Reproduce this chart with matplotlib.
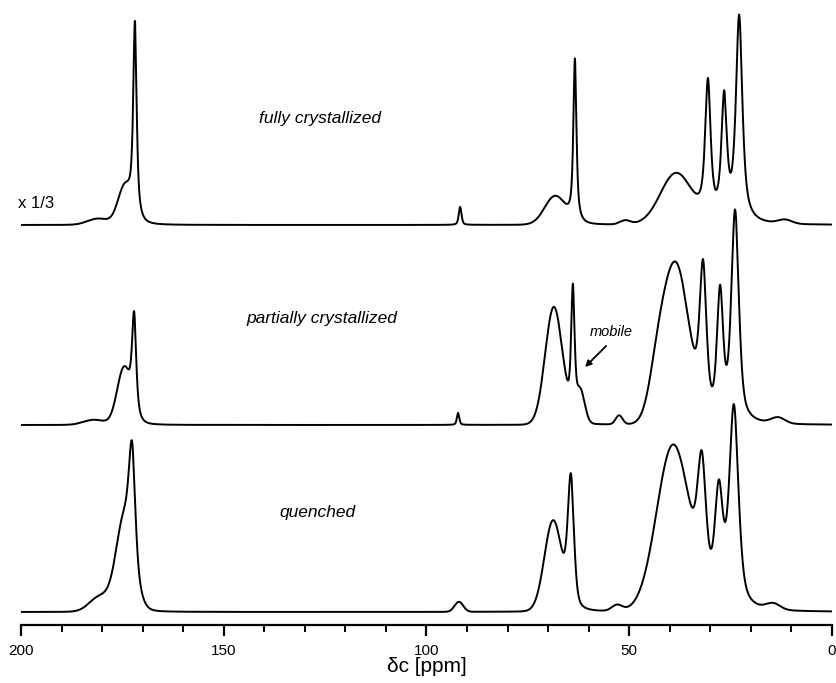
import numpy as np
import matplotlib
matplotlib.use('Agg')
import matplotlib.pyplot as plt

plt.rcParams['font.family'] = ['Liberation Sans', 'DejaVu Sans']

# Peak tables: position (ppm), height, FWHM (ppm), Lorentz fraction
# fully crystallized (drawn at 1/3 scale)
full_pos = [181.0, 174.4, 171.9, 91.7, 68.3, 63.4, 51.0, 38.5, 30.6, 26.6, 22.9, 11.6]
full_hgt = [6, 36, 192, 18, 28, 162, 4, 50, 135, 120, 205, 4]
full_wid = [6.0, 4.0, 1.0, 0.8, 6.0, 0.9, 3.0, 9.0, 1.6, 1.6, 1.9, 4.0]
full_eta = [0.0, 0.0, 0.8, 0.5, 0.0, 0.8, 0.0, 0.0, 0.8, 0.8, 0.8, 0.0]

# partially crystallized
part_pos = [182.0, 174.6, 172.1, 92.2, 68.6, 63.9, 62.0, 52.5, 43.0, 38.5, 31.8, 27.6, 23.9, 13.3]
part_hgt = [5, 55, 95, 12, 117, 125, 30, 9, 38, 156, 143, 125, 210, 6]
part_wid = [6.0, 4.0, 1.2, 0.7, 5.0, 1.0, 2.5, 2.0, 5.0, 7.5, 2.0, 1.8, 2.2, 4.0]
part_eta = [0.0, 0.0, 0.7, 0.5, 0.0, 0.7, 0.0, 0.0, 0.0, 0.0, 0.6, 0.6, 0.6, 0.0]

# quenched
quen_pos = [180.5, 174.4, 172.6, 92.0, 68.8, 64.4, 53.0, 39.2, 32.1, 27.9, 24.2, 14.5]
quen_hgt = [15, 92, 106, 10, 89, 128, 6, 164, 118, 110, 200, 6]
quen_wid = [6.0, 5.0, 1.8, 2.5, 5.0, 1.8, 3.0, 9.5, 2.5, 2.4, 2.7, 4.0]
quen_eta = [0.0, 0.0, 0.5, 0.0, 0.0, 0.5, 0.0, 0.0, 0.5, 0.6, 0.6, 0.0]

offsets = [400, 200, 13]


def spectrum(x, pos, hgt, wid, eta):
    y = np.zeros_like(x)
    for p, h, w, e in zip(pos, hgt, wid, eta):
        d = (x - p) / w
        lor = 1.0 / (1.0 + 4.0 * d ** 2)
        gau = np.exp(-4.0 * np.log(2) * d ** 2)
        y += h * (e * lor + (1 - e) * gau)
    return y


x = np.linspace(-1, 200, 6000)

fig = plt.figure(figsize=(8.37, 6.83), dpi=100)
ax = fig.add_axes([21 / 837, 58 / 683, 811 / 837, 625 / 683])

traces = [(full_pos, full_hgt, full_wid, full_eta),
          (part_pos, part_hgt, part_wid, part_eta),
          (quen_pos, quen_hgt, quen_wid, quen_eta)]
for (pos, hgt, wid, eta), off in zip(traces, offsets):
    ax.plot(x, off + spectrum(x, pos, hgt, wid, eta), color='black', lw=1.4)

ax.set_xlim(200, 0)
ax.set_ylim(0, 625)
ax.set_yticks([])
for s in ['left', 'right', 'top']:
    ax.spines[s].set_visible(False)
ax.spines['bottom'].set_linewidth(1.6)
ax.set_xticks([200, 150, 100, 50, 0])
ax.set_xticks(np.arange(0, 201, 10), minor=True)
ax.tick_params(axis='x', which='major', direction='out', length=8, width=1.6,
               labelsize=11, pad=6)
ax.tick_params(axis='x', which='minor', direction='out', length=5, width=1.4)
ax.set_xlabel('δc [ppm]', fontsize=15, labelpad=-1)

ax.text(126.3, 507, 'fully crystallized', style='italic', fontsize=12.5, ha='center', va='center')
ax.text(200.8, 421, 'x 1/3', fontsize=12, ha='left', va='center')
ax.text(125.8, 307, 'partially crystallized', style='italic', fontsize=12.5, ha='center', va='center')
ax.text(127.0, 113, 'quenched', style='italic', fontsize=12.5, ha='center', va='center')
ax.text(54.5, 293, 'mobile', style='italic', fontsize=10.5, ha='center', va='center')
ax.annotate('', xy=(60.9, 258), xytext=(55.7, 279),
            arrowprops=dict(arrowstyle='-|>', color='black', lw=1.3, shrinkA=0, shrinkB=0,
                            mutation_scale=9))

fig.savefig('out.png', dpi=100)
